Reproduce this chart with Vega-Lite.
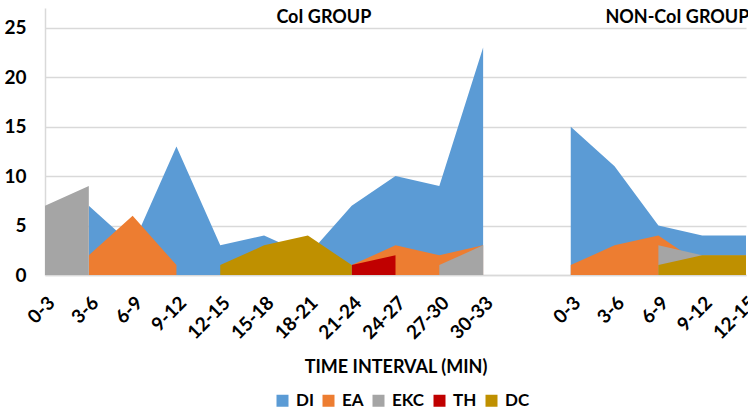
{
  "$schema": "https://vega.github.io/schema/vega-lite/v6.json",
  "autosize": "none",
  "width": 701,
  "height": 267,
  "padding": {"left": 45, "top": 8, "right": 2, "bottom": 137},
  "background": "white",
  "config": {
    "font": "Lato",
    "view": {"stroke": null},
    "axis": {
      "labelFont": "Lato", "labelFontWeight": "bold", "labelColor": "#000000",
      "titleFont": "Lato", "titleFontWeight": "bold", "titleColor": "#000000"
    },
    "legend": {"labelFont": "Lato", "labelFontWeight": "bold", "labelColor": "#000000"}
  },
  "data": {
    "values": [
      {"slot": "0-3|CoI", "DI": null, "EA": null, "EKC": 7, "TH": null, "DC": null},
      {"slot": "3-6|CoI", "DI": 7, "EA": 2, "EKC": 9, "TH": null, "DC": null},
      {"slot": "6-9|CoI", "DI": 3, "EA": 6, "EKC": null, "TH": null, "DC": null},
      {"slot": "9-12|CoI", "DI": 13, "EA": 1, "EKC": null, "TH": null, "DC": null},
      {"slot": "12-15|CoI", "DI": 3, "EA": null, "EKC": null, "TH": null, "DC": 1},
      {"slot": "15-18|CoI", "DI": 4, "EA": null, "EKC": null, "TH": null, "DC": 3},
      {"slot": "18-21|CoI", "DI": 2, "EA": null, "EKC": null, "TH": null, "DC": 4},
      {"slot": "21-24|CoI", "DI": 7, "EA": 1, "EKC": null, "TH": 1, "DC": 1},
      {"slot": "24-27|CoI", "DI": 10, "EA": 3, "EKC": null, "TH": 2, "DC": null},
      {"slot": "27-30|CoI", "DI": 9, "EA": 2, "EKC": 1, "TH": null, "DC": null},
      {"slot": "30-33|CoI", "DI": 23, "EA": 3, "EKC": 3, "TH": null, "DC": null},
      {"slot": "|gap", "DI": null, "EA": null, "EKC": null, "TH": null, "DC": null},
      {"slot": "0-3|NON", "DI": 15, "EA": 1, "EKC": null, "TH": null, "DC": null},
      {"slot": "3-6|NON", "DI": 11, "EA": 3, "EKC": null, "TH": null, "DC": null},
      {"slot": "6-9|NON", "DI": 5, "EA": 4, "EKC": 3, "TH": null, "DC": 1},
      {"slot": "9-12|NON", "DI": 4, "EA": 1, "EKC": 2, "TH": null, "DC": 2},
      {"slot": "12-15|NON", "DI": 4, "EA": 1, "EKC": 2, "TH": null, "DC": 2}
    ]
  },
  "encoding": {
    "x": {
      "field": "slot", "type": "ordinal",
      "scale": {"type": "point", "padding": 0,
        "domain": ["0-3|CoI","3-6|CoI","6-9|CoI","9-12|CoI","12-15|CoI","15-18|CoI","18-21|CoI","21-24|CoI","24-27|CoI","27-30|CoI","30-33|CoI","|gap","0-3|NON","3-6|NON","6-9|NON","9-12|NON","12-15|NON"]},
      "axis": {
        "title": "TIME INTERVAL (MIN)", "titleFontSize": 18, "titlePadding": 16,
        "labelExpr": "split(datum.label, '|')[0]",
        "labelAngle": -45, "labelFontSize": 19, "labelPadding": 18,
        "ticks": false, "domainColor": "#d9d9d9", "domainWidth": 1.5, "grid": false
      }
    }
  },
  "layer": [
    {
      "mark": {"type": "area", "opacity": 1, "invalid": "break-paths-filter-domains"},
      "encoding": {
        "y": {"field": "DI", "type": "quantitative", "stack": null,
          "scale": {"domain": [0, 27], "nice": false},
          "axis": {"title": null, "values": [0,5,10,15,20,25], "labelFontSize": 19, "labelPadding": 19,
            "ticks": false, "domainColor": "#d9d9d9", "domainWidth": 1.5,
            "gridColor": "#d9d9d9", "gridWidth": 1.5}},
        "color": {"datum": "DI", "type": "nominal",
          "scale": {"domain": ["DI","EA","EKC","TH","DC"], "range": ["#5b9bd5","#ed7d31","#a5a5a5","#c00000","#bf9000"]},
          "legend": {"title": null, "orient": "none", "legendX": 229, "legendY": 384, "direction": "horizontal", "symbolType": "square",
            "symbolSize": 144, "symbolOpacity": 1, "symbolStrokeWidth": 0, "labelFontSize": 17, "labelOffset": 5, "columnPadding": 6}}
      }
    },
    {
      "mark": {"type": "area", "opacity": 1, "invalid": "break-paths-filter-domains"},
      "encoding": {"y": {"field": "EA", "type": "quantitative", "stack": null}, "color": {"datum": "EA", "type": "nominal"}}
    },
    {
      "mark": {"type": "area", "opacity": 1, "invalid": "break-paths-filter-domains"},
      "encoding": {"y": {"field": "EKC", "type": "quantitative", "stack": null}, "color": {"datum": "EKC", "type": "nominal"}}
    },
    {
      "mark": {"type": "area", "opacity": 1, "invalid": "break-paths-filter-domains"},
      "encoding": {"y": {"field": "TH", "type": "quantitative", "stack": null}, "color": {"datum": "TH", "type": "nominal"}}
    },
    {
      "mark": {"type": "area", "opacity": 1, "invalid": "break-paths-filter-domains"},
      "encoding": {"y": {"field": "DC", "type": "quantitative", "stack": null}, "color": {"datum": "DC", "type": "nominal"}}
    },
    {
      "data": {"values": [
        {"slot": "18-21|CoI", "v": 26, "label": "CoI GROUP"}
      ]},
      "mark": {"type": "text", "font": "Lato", "fontWeight": "bold", "fontSize": 18, "color": "#000000", "align": "center", "baseline": "middle", "dx": 16},
      "encoding": {
        "y": {"field": "v", "type": "quantitative"},
        "text": {"field": "label"}
      }
    },
    {
      "data": {"values": [
        {"slot": "6-9|NON", "v": 26, "label": "NON-CoI GROUP"}
      ]},
      "mark": {"type": "text", "font": "Lato", "fontWeight": "bold", "fontSize": 18, "color": "#000000", "align": "center", "baseline": "middle", "dx": 19},
      "encoding": {
        "y": {"field": "v", "type": "quantitative"},
        "text": {"field": "label"}
      }
    }
  ]
}
